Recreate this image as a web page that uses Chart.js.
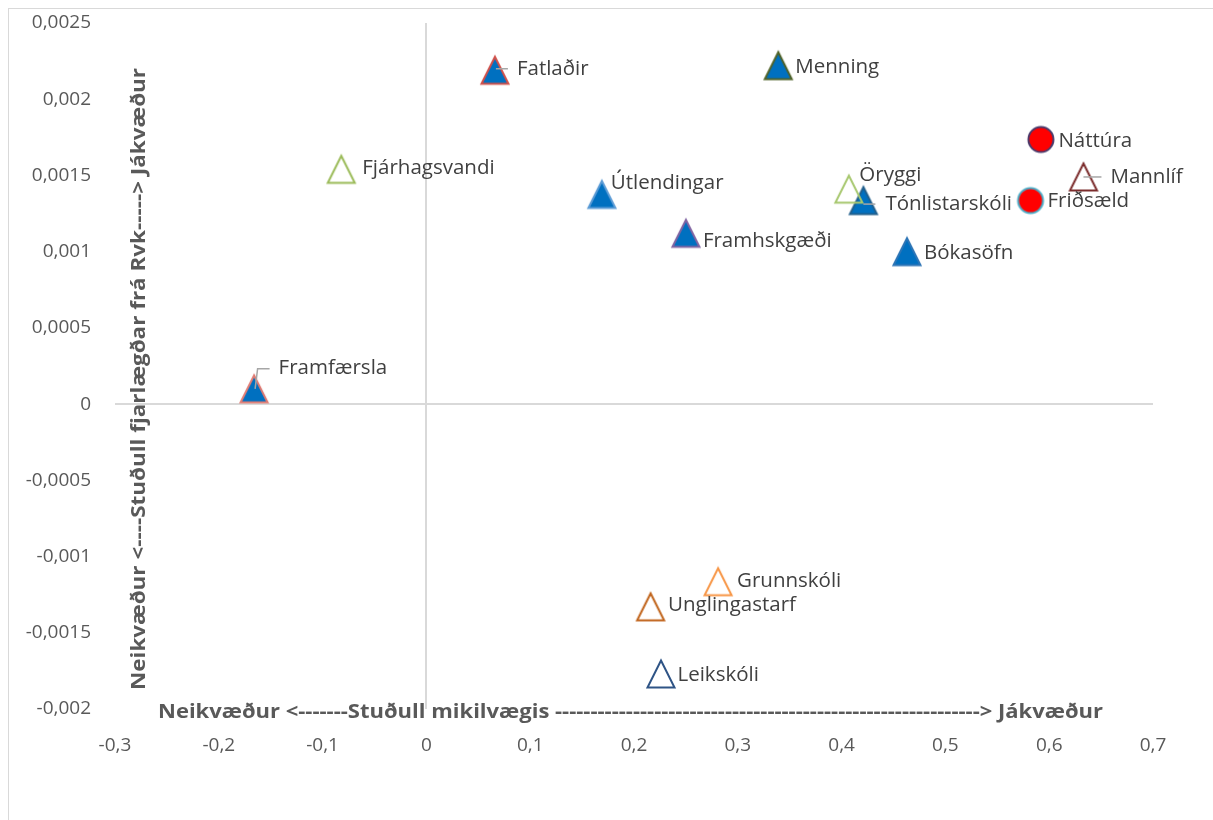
<!DOCTYPE html>
<html>
<head>
<meta charset="utf-8">
<script src="https://cdn.jsdelivr.net/npm/chart.js@4.4.1/dist/chart.umd.min.js"></script>
<style>
  html, body { margin: 0; padding: 0; background: #fff; overflow: hidden; }
  canvas { display: block; }
</style>
</head>
<body>
<canvas id="chart" width="1213" height="820"></canvas>
<script>
// gögn lesin af myndinni
const categories = ['Fatlaðir', 'Menning', 'Fjárhagsvandi', 'Útlendingar', 'Framhskgæði', 'Tónlistarskóli', 'Öryggi', 'Bókasöfn', 'Náttúra', 'Mannlíf', 'Friðsæld', 'Framfærsla', 'Grunnskóli', 'Unglingastarf', 'Leikskóli'];
const xValues = [0.066, 0.339, -0.082, 0.169, 0.25, 0.421, 0.407, 0.463, 0.592, 0.633, 0.582, -0.166, 0.281, 0.216, 0.226];
const yValues = [0.00219, 0.00222, 0.00154, 0.001375, 0.00112, 0.001335, 0.00141, 0.001, 0.001736, 0.00149, 0.001335, 0.0001, -0.001165, -0.00133, -0.00177];

const xTickValues = [-0.3, -0.2, -0.1, 0, 0.1, 0.2, 0.3, 0.4, 0.5, 0.6, 0.7];
const yTickValues = [-0.002, -0.0015, -0.001, -0.0005, 0, 0.0005, 0.001, 0.0015, 0.002, 0.0025];

const xTitle = 'Neikvæður <-------Stuðull mikilvægis ' + '-'.repeat(60) + '> Jákvæður';
const yTitle = 'Neikvæður <----Stuðull fjarlægðar frá Rvk-----> Jákvæður';

// útlit punkta: [lögun, fylling, rammi]
const BLUE = '#0070C0';
const markerStyles = [
  ['tri', BLUE, '#D0504A'],
  ['tri', BLUE, '#4F6228'],
  ['tri', null, '#9BBB59'],
  ['tri', BLUE, '#5B9BD5'],
  ['tri', BLUE, '#8064A2'],
  ['tri', BLUE, '#215F8C'],
  ['tri', null, '#A8C870'],
  ['tri', BLUE, '#2E75B6'],
  ['circle', '#FF0000', '#4B3A6B'],
  ['tri', null, '#7B2C2C'],
  ['circle', '#FF0000', '#4BACC6'],
  ['tri', BLUE, '#E07B73'],
  ['tri', null, '#F79646'],
  ['tri', null, '#C0631A'],
  ['tri', null, '#2F5486']
];

// staðsetning merkimiða miðað við punkt
const labelOffsets = [
  [22, -1.5], [17, 1], [21, -1.5], [9, -11.5], [17, 8], [22, 3.5], [10.5, -14], [17, 1.5],
  [17.5, 1.5], [27, 0.5], [17, 0.5], [24.5, -20.5], [19, -0.5], [17.5, -1.5], [16.5, 1.5]
];
const leaderLines = {
  0: [[1, -1.5], [13, -1.5]],
  5: [[0, 3.5], [12, 3.5]],
  9: [[0, 0], [18, 0]],
  11: [[1, 0], [3.5, -20], [15.5, -20]]
};

function makeMarker(shape, fill, stroke) {
  const c = document.createElement('canvas');
  c.width = 34;
  c.height = 34;
  const g = c.getContext('2d');
  g.lineWidth = 2;
  g.beginPath();
  if (shape === 'tri') {
    g.moveTo(17, 3.5);
    g.lineTo(30.5, 30.5);
    g.lineTo(3.5, 30.5);
    g.closePath();
  } else {
    g.arc(17, 17, 12.5, 0, Math.PI * 2);
  }
  if (fill) {
    g.fillStyle = fill;
    g.fill();
  }
  g.strokeStyle = stroke;
  g.stroke();
  return c;
}

const fmt = v => String(parseFloat(Number(v).toFixed(4))).replace('.', ',');

const frame = {
  id: 'frame',
  beforeDraw(chart) {
    const ctx = chart.ctx;
    ctx.save();
    ctx.fillStyle = '#fff';
    ctx.fillRect(0, 0, chart.width, chart.height);
    ctx.strokeStyle = '#d9d9d9';
    ctx.lineWidth = 1;
    ctx.strokeRect(8.5, 8.5, 1400, 1000);
    ctx.restore();
  }
};

const labels = {
  id: 'labels',
  afterDatasetsDraw(chart) {
    const ctx = chart.ctx;
    const area = chart.chartArea;
    const pts = chart.getDatasetMeta(0).data;
    ctx.save();

    // leiðarlínur
    ctx.strokeStyle = '#a6a6a6';
    ctx.lineWidth = 1.5;
    Object.keys(leaderLines).forEach(k => {
      const p = pts[k];
      ctx.beginPath();
      leaderLines[k].forEach((o, j) => {
        if (j === 0) ctx.moveTo(p.x + o[0], p.y + o[1]);
        else ctx.lineTo(p.x + o[0], p.y + o[1]);
      });
      ctx.stroke();
    });

    ctx.fillStyle = '#404040';
    ctx.font = '20.5px "Open Sans"';
    ctx.textAlign = 'left';
    ctx.textBaseline = 'middle';
    categories.forEach((name, i) => {
      const p = pts[i];
      ctx.fillText(name, p.x + labelOffsets[i][0], p.y + labelOffsets[i][1]);
    });

    // ásaheiti
    ctx.fillStyle = '#595959';
    ctx.font = 'bold 19px "Open Sans"';
    let w = ctx.measureText(xTitle).width;
    ctx.save();
    ctx.translate(area.left + 43, area.bottom + 4);
    ctx.scale(945 / w, 1);
    ctx.fillText(xTitle, 0, 0);
    ctx.restore();

    w = ctx.measureText(yTitle).width;
    ctx.save();
    ctx.translate(area.left + 25, area.bottom - 19);
    ctx.rotate(-Math.PI / 2);
    ctx.scale(622 / w, 1);
    ctx.fillText(yTitle, 0, 0);
    ctx.restore();

    ctx.restore();
  }
};

const zeroLine = c => (c.tick && c.tick.value === 0 ? '#d9d9d9' : 'rgba(0,0,0,0)');
const tickFont = { family: 'Open Sans', size: 19 };

new Chart(document.getElementById('chart'), {
  type: 'scatter',
  data: {
    datasets: [{
      data: xValues.map((x, i) => ({ x: x, y: yValues[i] })),
      pointStyle: markerStyles.map(m => makeMarker(m[0], m[1], m[2])),
      pointRadius: 13,
      pointHoverRadius: 13
    }]
  },
  options: {
    responsive: false,
    animation: false,
    events: [],
    layout: { autoPadding: false, padding: { top: 23, right: 60, left: 0, bottom: 0 } },
    plugins: {
      legend: { display: false },
      tooltip: { enabled: false }
    },
    scales: {
      x: {
        type: 'linear',
        min: -0.3,
        max: 0.7,
        afterBuildTicks: s => { s.ticks = xTickValues.map(v => ({ value: v })); },
        afterFit: s => { s.height = 111; s.paddingLeft = 0; s.paddingRight = 0; },
        border: { display: false },
        grid: { color: zeroLine, lineWidth: 2, drawTicks: false },
        ticks: { color: '#595959', font: tickFont, padding: 25, maxRotation: 0, autoSkip: false, callback: fmt }
      },
      y: {
        type: 'linear',
        min: -0.002,
        max: 0.0025,
        afterBuildTicks: s => { s.ticks = yTickValues.map(v => ({ value: v })); },
        afterFit: s => { s.width = 115; s.paddingTop = 0; s.paddingBottom = 0; },
        border: { display: false },
        grid: { color: zeroLine, lineWidth: 2, drawTicks: false },
        ticks: { color: '#595959', font: tickFont, padding: 24, autoSkip: false, callback: fmt }
      }
    }
  },
  plugins: [frame, labels]
});
</script>
</body>
</html>
